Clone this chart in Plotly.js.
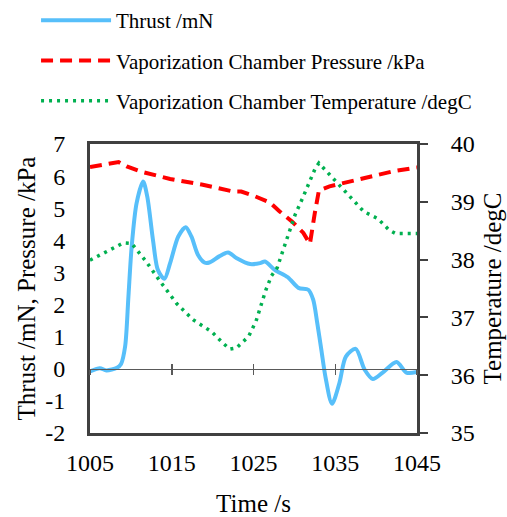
<!DOCTYPE html>
<html>
<head>
<meta charset="utf-8">
<script src="https://cdn.plot.ly/plotly-3.0.1.min.js"></script>
<style>html,body{margin:0;padding:0;background:#fff;}#chart{width:507px;height:517px;}</style>
</head>
<body>
<div id="chart"></div>
<script>
// Thrust /mN
const thrustTime = [1005, 1006.2, 1007.0, 1008.3, 1008.8, 1009.3, 1009.7, 1010.1, 1010.7, 1011.5, 1012.0, 1012.7, 1013.3, 1014.1, 1014.8, 1015.8, 1016.7, 1017.4, 1018.2, 1019.0, 1019.6, 1020.8, 1021.9, 1022.9, 1024.6, 1025.8, 1026.4, 1027.6, 1029.2, 1030.5, 1031.7, 1032.3, 1032.8, 1033.3, 1033.8, 1034.6, 1035.5, 1036.3, 1037.5, 1038.6, 1039.6, 1040.8, 1042.5, 1043.7, 1045];
const thrust = [-0.08, 0.02, -0.05, 0.03, 0.15, 0.7, 2.25, 3.81, 5.16, 5.83, 5.37, 4.02, 3.08, 2.8, 3.29, 4.12, 4.41, 4.12, 3.55, 3.31, 3.31, 3.5, 3.62, 3.45, 3.26, 3.29, 3.34, 3.08, 2.85, 2.52, 2.46, 2.15, 1.42, 0.59, -0.25, -1.09, -0.45, 0.38, 0.62, -0.03, -0.32, -0.12, 0.21, -0.12, -0.1];

// Vaporization Chamber Pressure /kPa
const pressureTime = [1005, 1008.5, 1009.5, 1011.1, 1014.8, 1018.8, 1022.5, 1023.5, 1025.2, 1027.0, 1028.2, 1029.7, 1031.1, 1031.9, 1032.5, 1033.0, 1034.3, 1036.7, 1038.0, 1040.8, 1042.1, 1045];
const pressure = [6.28, 6.44, 6.3, 6.15, 5.91, 5.73, 5.52, 5.52, 5.37, 5.18, 4.9, 4.59, 4.23, 3.89, 4.85, 5.55, 5.68, 5.83, 5.91, 6.1, 6.15, 6.27];

// Vaporization Chamber Temperature /degC
const tempTime = [1005, 1009.1, 1010.1, 1011.9, 1013.6, 1015.6, 1017.6, 1019.9, 1021.3, 1022.1, 1022.9, 1024.4, 1025.3, 1025.9, 1026.5, 1027.2, 1027.9, 1028.8, 1029.4, 1030.1, 1030.9, 1031.7, 1032.5, 1033.0, 1034.4, 1035.8, 1037.2, 1038.5, 1040.2, 1041.6, 1042.4, 1045];
const temperature = [37.99, 38.29, 38.28, 37.96, 37.62, 37.24, 36.96, 36.75, 36.55, 36.45, 36.47, 36.67, 36.93, 37.2, 37.47, 37.72, 37.86, 38.24, 38.51, 38.78, 39.03, 39.29, 39.56, 39.67, 39.46, 39.25, 39.03, 38.83, 38.71, 38.51, 38.45, 38.45];

const xTicks = [1005, 1015, 1025, 1035, 1045];
const leftTicks = [-2, -1, 0, 1, 2, 3, 4, 5, 6, 7];
const rightTicks = [35, 36, 37, 38, 39, 40];

const FONT = 'Liberation Serif, Times New Roman, serif';
const FRAME = '#404040';
const AXIS0 = '#595959';

const traces = [
  {x: thrustTime, y: thrust, type: 'scatter', mode: 'lines', name: 'Thrust /mN', legendgroup: 'a',
   line: {color: '#57BFFA', width: 4, shape: 'spline', smoothing: 0.8}, xaxis: 'x', yaxis: 'y'},
  {x: pressureTime, y: pressure, type: 'scatter', mode: 'lines', name: 'Vaporization Chamber Pressure /kPa', legendgroup: 'b',
   line: {color: '#FF0000', width: 4, dash: '12px,7px'}, xaxis: 'x', yaxis: 'y'},
  {x: tempTime, y: temperature, type: 'scatter', mode: 'lines', name: 'Vaporization Chamber Temperature /degC', legendgroup: 'c',
   line: {color: '#00B050', width: 3.5, dash: '3px,5px'}, xaxis: 'x', yaxis: 'y2'},
  // empty helpers so the axis drawn through y = 0 (with crossing ticks) is rendered
  {x: [null], y: [null], type: 'scatter', mode: 'lines', showlegend: false, hoverinfo: 'skip', xaxis: 'x2', yaxis: 'y'},
  {x: [null], y: [null], type: 'scatter', mode: 'lines', showlegend: false, hoverinfo: 'skip', xaxis: 'x3', yaxis: 'y'}
];

const yZero = (0 - leftTicks[0]) / (leftTicks[leftTicks.length - 1] - leftTicks[0]);

const layout = {
  width: 507, height: 517,
  margin: {l: 90, r: 90, t: 144, b: 84, pad: 0, autoexpand: false},
  paper_bgcolor: '#fff', plot_bgcolor: '#fff',
  font: {family: FONT, color: '#000', size: 22},
  showlegend: true,
  legend: {
    x: -0.165, y: 1.498, xanchor: 'left', yanchor: 'top',
    orientation: 'v', traceorder: 'grouped', tracegroupgap: 10, itemwidth: 70,
    font: {family: FONT, size: 21, color: '#000'},
    bgcolor: 'rgba(0,0,0,0)', borderwidth: 0
  },
  xaxis: {
    range: [1005, 1045], tickvals: xTicks, ticktext: xTicks.map(String),
    showline: true, mirror: true, linecolor: FRAME, linewidth: 3,
    ticks: 'outside', ticklen: 0, ticklabelstandoff: 6,
    showgrid: false, zeroline: false,
    tickfont: {family: FONT, size: 24, color: '#000'},
    title: {text: 'Time /s', font: {family: FONT, size: 25, color: '#000'}, standoff: 22},
    fixedrange: true
  },
  xaxis2: {
    range: [1005, 1045], tickvals: xTicks, overlaying: 'x', anchor: 'free', position: yZero,
    showline: true, linecolor: AXIS0, linewidth: 1.5,
    ticks: 'outside', ticklen: 5, tickwidth: 1.5, tickcolor: AXIS0,
    showticklabels: false, showgrid: false, zeroline: false, fixedrange: true
  },
  xaxis3: {
    range: [1005, 1045], tickvals: xTicks, overlaying: 'x', anchor: 'free', position: yZero,
    showline: false,
    ticks: 'inside', ticklen: 5, tickwidth: 1.5, tickcolor: AXIS0,
    showticklabels: false, showgrid: false, zeroline: false, fixedrange: true
  },
  yaxis: {
    range: [-2, 7], tickvals: leftTicks, ticktext: leftTicks.map(String),
    showline: true, mirror: true, linecolor: FRAME, linewidth: 3,
    ticks: 'outside', ticklen: 0, ticklabelstandoff: 17,
    showgrid: false, zeroline: false,
    tickfont: {family: FONT, size: 24, color: '#000'},
    title: {text: 'Thrust /mN, Pressure /kPa', font: {family: FONT, size: 25, color: '#000'}, standoff: 3},
    fixedrange: true
  },
  yaxis2: {
    range: [35, 40], tickvals: rightTicks, overlaying: 'y', side: 'right', anchor: 'x',
    showline: true, linecolor: FRAME, linewidth: 3,
    ticks: 'outside', ticklen: 8, tickwidth: 2, tickcolor: FRAME, ticklabelstandoff: 18,
    showgrid: false, zeroline: false,
    tickfont: {family: FONT, size: 24, color: '#000'},
    title: {text: 'Temperature /degC', font: {family: FONT, size: 25, color: '#000'}, standoff: 10},
    fixedrange: true
  }
};

Plotly.newPlot('chart', traces, layout, {displayModeBar: false, staticPlot: true});
</script>
</body>
</html>
